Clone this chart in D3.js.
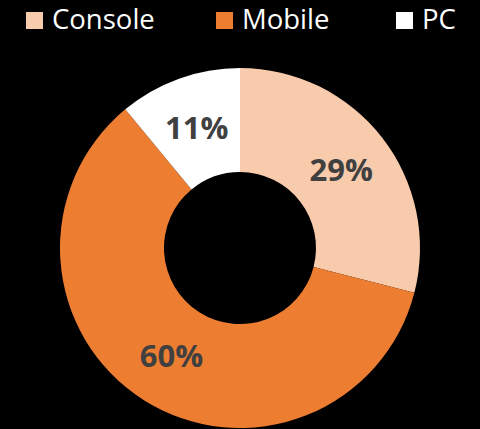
<!DOCTYPE html>
<html><head><meta charset="utf-8">
<script src="https://cdn.jsdelivr.net/npm/d3@7"></script>
<style>html,body{margin:0;padding:0;background:#000;}svg{display:block;}</style>
</head><body>
<svg id="chart" width="480" height="429"></svg>
<script>
const categories = ["Console", "Mobile", "PC"];
const values = [29, 60, 11];
const colors = ["#F8CBAD", "#ED7D31", "#FFFFFF"];
const labels = ["29%", "60%", "11%"];

const svg = d3.select("#chart");
const cx = 240, cy = 248, rOuter = 180, rInner = 76;

const color = d3.scaleOrdinal().domain(categories).range(colors);
const pie = d3.pie().sort(null).value(d => d.value);
const data = categories.map((c, i) => ({cat: c, value: values[i], label: labels[i]}));
const arcs = pie(data);
const arc = d3.arc().innerRadius(rInner).outerRadius(rOuter);

const g = svg.append("g").attr("transform", `translate(${cx},${cy})`);
g.selectAll("path").data(arcs).join("path")
  .attr("d", arc)
  .attr("fill", d => color(d.data.cat));

g.selectAll("text").data(arcs).join("text")
  .attr("x", d => arc.centroid(d)[0])
  .attr("y", d => arc.centroid(d)[1])
  .attr("dy", "0.36em")
  .attr("text-anchor", "middle")
  .attr("font-family", "'Open Sans', sans-serif")
  .attr("font-weight", "bold")
  .attr("font-size", 31)
  .attr("fill", "#404040")
  .text(d => d.data.label);

// legend
const legendX = [26, 216, 396];
const leg = svg.append("g");
categories.forEach((c, i) => {
  const lg = leg.append("g").attr("transform", `translate(${legendX[i]},12)`);
  lg.append("rect").attr("width", 17).attr("height", 17).attr("fill", color(c));
  lg.append("text").attr("x", 26).attr("y", 17)
    .attr("font-family", "'Open Sans', sans-serif")
    .attr("font-size", 27.5)
    .attr("fill", "#ffffff")
    .text(c);
});
</script>
</body></html>
